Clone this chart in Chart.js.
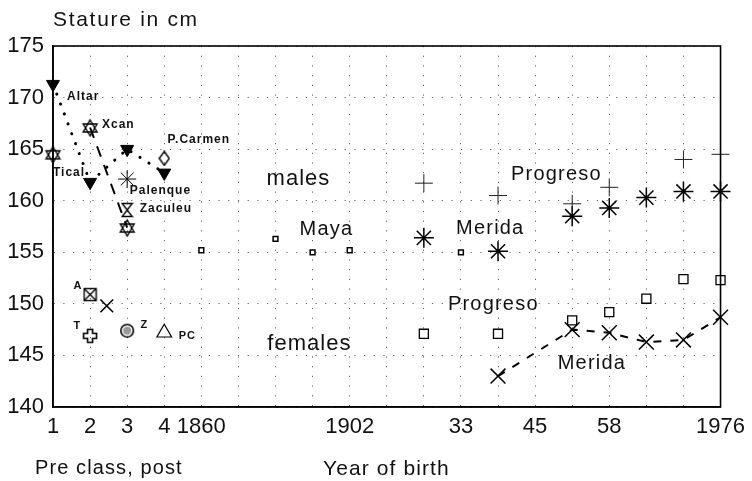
<!DOCTYPE html>
<html>
<head>
<meta charset="utf-8">
<script src="https://cdn.jsdelivr.net/npm/chart.js@4.4.1/dist/chart.umd.min.js"></script>
<style>
  html, body { margin: 0; padding: 0; background: #fff; }
</style>
</head>
<body>
<canvas id="chart" width="752" height="481"></canvas>
<script>
/* Stature of Maya populations: pre-Columbian sites (periods 1-4) and
   birth cohorts 1860-1976. The x axis is a slot index 0..18. */
(function () {
    "use strict";

    // x axis: slot index -> printed label
    var tickSlots = [0, 1, 2, 3, 4, 8, 11, 13, 15, 18];
    var tickNames = ["1", "2", "3", "4", "1860", "1902", "33", "45", "58", "1976"];

    // males, pre-Columbian sites
    var triSlots = [0, 1, 2, 3];                 // Altar ... P.Carmen series
    var triStature = [171.3, 161.8, 165.0, 162.7];
    var starSlots = [0, 1, 2];                   // Tical, Xcan, Zaculeu
    var starStature = [164.5, 167.1, 157.4];
    var palenque = { slot: 2, stature: 162.1 };
    var zaculeu = { slot: 2, stature: 159.1 };
    var pCarmen = { slot: 3, stature: 164.1 };

    // females, pre-Columbian sites
    var altarF = { slot: 1, stature: 150.9 };
    var otherF = { slot: 1.45, stature: 149.8 };
    var ticalF = { slot: 1, stature: 146.9 };
    var zaculeuF = { slot: 2, stature: 147.4 };
    var pCarmenF = { slot: 3, stature: 147.2 };

    // males, birth cohorts
    var mayaSlots = [4, 6, 7, 8, 11];
    var mayaStature = [155.2, 156.3, 155.0, 155.2, 155.0];
    var progresoMSlots = [10, 12, 14, 15, 17, 18];
    var progresoM = [161.7, 160.5, 159.7, 161.3, 164.0, 164.5];
    var meridaMSlots = [10, 12, 14, 15, 16, 17, 18];
    var meridaM = [156.4, 155.1, 158.5, 159.3, 160.3, 160.9, 160.9];

    // females, birth cohorts
    var progresoFSlots = [10, 12, 14, 15, 16, 17, 18];
    var progresoF = [147.1, 147.1, 148.4, 149.2, 150.5, 152.4, 152.3];
    var meridaFSlots = [12, 14, 15, 16, 17, 18];
    var meridaF = [143.0, 147.5, 147.2, 146.3, 146.5, 148.7];

    function pts(xs, ys) {
        return xs.map(function (x, i) {
            return { x: x, y: ys[i] };
        });
    }
    function one(p) {
        return [{ x: p.slot, y: p.stature }];
    }

    // small canvases used as point styles
    function icon(w, h, draw) {
        var c = document.createElement("canvas");
        c.width = w;
        c.height = h;
        var g = c.getContext("2d");
        g.strokeStyle = "#000";
        g.fillStyle = "#000";
        g.lineWidth = 1.4;
        draw(g, w, h);
        return c;
    }
    var hexagram = icon(19, 19, function (g) {
        [-Math.PI / 2, Math.PI / 2].forEach(function (a0) {
            g.beginPath();
            for (var k = 0; k < 3; k++) {
                var a = a0 + (k * 2 * Math.PI) / 3;
                g.lineTo(9.5 + 8 * Math.cos(a), 10 + 8 * Math.sin(a));
            }
            g.closePath();
            g.stroke();
        });
    });
    var hourglass = icon(13, 16, function (g) {
        g.beginPath();
        g.moveTo(1.5, 1.5);
        g.lineTo(11.5, 1.5);
        g.lineTo(1.5, 14.5);
        g.lineTo(11.5, 14.5);
        g.closePath();
        g.stroke();
    });
    var boxedHourglass = icon(15, 15, function (g) {
        g.strokeRect(1.5, 1.5, 12, 12);
        g.beginPath();
        g.moveTo(1.5, 1.5);
        g.lineTo(13.5, 13.5);
        g.moveTo(13.5, 1.5);
        g.lineTo(1.5, 13.5);
        g.stroke();
    });
    var greekCross = icon(16, 16, function (g) {
        var a = 5.5, b = 10.5, e = 1.5, f = 14.5;
        g.beginPath();
        g.moveTo(a, e); g.lineTo(b, e); g.lineTo(b, a); g.lineTo(f, a);
        g.lineTo(f, b); g.lineTo(b, b); g.lineTo(b, f); g.lineTo(a, f);
        g.lineTo(a, b); g.lineTo(e, b); g.lineTo(e, a); g.lineTo(a, a);
        g.closePath();
        g.lineWidth = 1.6;
        g.stroke();
    });
    var dottedCircle = icon(16, 16, function (g) {
        g.fillStyle = "#999";
        g.beginPath();
        g.arc(8, 8, 4, 0, Math.PI * 2);
        g.fill();
        g.lineWidth = 1.6;
        g.beginPath();
        g.arc(8, 8, 6.3, 0, Math.PI * 2);
        g.stroke();
    });
    var diamond = icon(12, 16, function (g) {
        g.beginPath();
        g.moveTo(6, 1);
        g.lineTo(11, 8);
        g.lineTo(6, 15);
        g.lineTo(1, 8);
        g.closePath();
        g.stroke();
    });

    // text placed in the plot: [text, slot, stature, font, letter spacing]
    var small = "bold 12px 'Liberation Sans', Arial, sans-serif";
    var tiny = "bold 11px 'Liberation Sans', Arial, sans-serif";
    var mid = "20px 'Liberation Sans', Arial, sans-serif";
    var big = "22px 'Liberation Sans', Arial, sans-serif";
    var notes = [
        ["Altar", 0.38, 170.1, small, "1px"],
        ["Xcan", 1.32, 167.4, small, "1px"],
        ["P.Carmen", 3.09, 165.9, small, "1px"],
        ["Tical", 0.0, 162.7, small, "1px"],
        ["Palenque", 2.07, 161.0, small, "1px"],
        ["Zaculeu", 2.34, 159.2, small, "1px"],
        ["A", 0.55, 151.7, tiny, "0px"],
        ["T", 0.55, 147.9, tiny, "0px"],
        ["Z", 2.36, 148.0, tiny, "0px"],
        ["PC", 3.39, 146.9, tiny, "1px"],
        ["males", 5.76, 162.1, big, "1px"],
        ["Maya", 6.65, 157.2, mid, "1.2px"],
        ["Merida", 10.87, 157.3, mid, "1.2px"],
        ["Progreso", 12.35, 162.5, mid, "1.2px"],
        ["females", 5.78, 146.1, big, "1px"],
        ["Progreso", 10.65, 149.9, mid, "1.2px"],
        ["Merida", 13.61, 144.2, mid, "1.2px"]
    ];

    var frameAndNotes = {
        id: "frameAndNotes",
        afterDraw: function (chart) {
            var ctx = chart.ctx;
            var a = chart.chartArea;
            var sx = chart.scales.x;
            var sy = chart.scales.y;
            ctx.save();
            ctx.strokeStyle = "#000";
            ctx.lineWidth = 1.6;
            ctx.strokeRect(a.left, a.top, a.right - a.left, a.bottom - a.top);

            ctx.fillStyle = "#111";
            ctx.textAlign = "left";
            ctx.textBaseline = "middle";
            notes.forEach(function (n) {
                ctx.font = n[3];
                ctx.letterSpacing = n[4];
                ctx.fillText(n[0], sx.getPixelForValue(n[1]), sy.getPixelForValue(n[2]));
            });

            ctx.textBaseline = "alphabetic";
            ctx.font = "21px 'Liberation Sans', Arial, sans-serif";
            ctx.letterSpacing = "1.7px";
            ctx.fillText("Stature in cm", 53, 26);
            ctx.font = "20px 'Liberation Sans', Arial, sans-serif";
            ctx.letterSpacing = "1.1px";
            ctx.fillText("Pre class, post", 35, 474);
            ctx.font = "21px 'Liberation Sans', Arial, sans-serif";
            ctx.fillText("Year of birth", 323, 475);
            ctx.restore();
        }
    };

    var dots = [0.1, 10.5];

    new Chart(document.getElementById("chart"), {
        type: "scatter",
        data: {
            datasets: [
                {
                    data: pts(triSlots, triStature),
                    showLine: true,
                    borderColor: "#000",
                    borderWidth: 3,
                    borderDash: dots,
                    borderCapStyle: "round",
                    pointStyle: "triangle",
                    pointRotation: 180,
                    pointRadius: 7.5,
                    pointBackgroundColor: "#000",
                    pointBorderColor: "#000",
                    pointBorderWidth: 1
                },
                {
                    data: pts(starSlots.slice(1), starStature.slice(1)),
                    showLine: true,
                    borderColor: "#000",
                    borderWidth: 2,
                    borderDash: [11, 9],
                    pointRadius: 0
                },
                {
                    data: pts(starSlots, starStature),
                    pointStyle: hexagram,
                    pointRadius: 9
                },
                {
                    data: one(palenque),
                    pointStyle: "star",
                    pointRadius: 9,
                    pointBorderColor: "#000",
                    pointBorderWidth: 1
                },
                { data: one(zaculeu), pointStyle: hourglass, pointRadius: 8 },
                { data: one(pCarmen), pointStyle: diamond, pointRadius: 8 },
                { data: one(altarF), pointStyle: boxedHourglass, pointRadius: 8 },
                {
                    data: one(otherF),
                    pointStyle: "crossRot",
                    pointRadius: 9,
                    pointBorderColor: "#000",
                    pointBorderWidth: 1.6
                },
                { data: one(ticalF), pointStyle: greekCross, pointRadius: 8 },
                { data: one(zaculeuF), pointStyle: dottedCircle, pointRadius: 8 },
                {
                    data: one(pCarmenF),
                    pointStyle: "triangle",
                    pointRadius: 8.5,
                    pointBackgroundColor: "#fff",
                    pointBorderColor: "#000",
                    pointBorderWidth: 1.2
                },
                {
                    data: pts(mayaSlots, mayaStature),
                    pointStyle: "rect",
                    pointRadius: 3.4,
                    pointBackgroundColor: "#fff",
                    pointBorderColor: "#000",
                    pointBorderWidth: 1.5
                },
                {
                    data: pts(progresoMSlots, progresoM),
                    pointStyle: "cross",
                    pointRadius: 9,
                    pointBorderColor: "#222",
                    pointBorderWidth: 1
                },
                {
                    data: pts(meridaMSlots, meridaM),
                    pointStyle: "star",
                    pointRadius: 10,
                    pointBorderColor: "#000",
                    pointBorderWidth: 1.5
                },
                {
                    data: pts(progresoFSlots, progresoF),
                    pointStyle: "rect",
                    pointRadius: 6.4,
                    pointBackgroundColor: "#fff",
                    pointBorderColor: "#000",
                    pointBorderWidth: 1.3
                },
                {
                    data: pts(meridaFSlots, meridaF),
                    showLine: true,
                    borderColor: "#000",
                    borderWidth: 2,
                    borderDash: [8, 9],
                    pointStyle: "crossRot",
                    pointRadius: 10.5,
                    pointBorderColor: "#000",
                    pointBorderWidth: 1.5
                }
            ]
        },
        options: {
            responsive: false,
            animation: false,
            events: [],
            datasets: { scatter: { clip: false } },
            layout: { padding: { top: 46, right: 30, left: 0, bottom: 0 } },
            plugins: { legend: { display: false }, tooltip: { enabled: false } },
            scales: {
                x: {
                    type: "linear",
                    min: 0,
                    max: 18,
                    afterFit: function (s) {
                        s.height = 74;
                    },
                    afterBuildTicks: function (s) {
                        var t = [];
                        for (var i = 0; i <= 18; i++) {
                            t.push({ value: i });
                        }
                        s.ticks = t;
                    },
                    ticks: {
                        autoSkip: false,
                        maxRotation: 0,
                        padding: 7,
                        color: "#111",
                        font: { family: "'Liberation Sans', Arial, sans-serif", size: 22 },
                        callback: function (v) {
                            var i = tickSlots.indexOf(v);
                            return i >= 0 ? tickNames[i] : "";
                        }
                    },
                    grid: { color: "#666", lineWidth: 1, drawTicks: false, borderDash: [1.2, 8.5] },
                    border: { display: true, color: "#000", width: 1.6, dash: [1.2, 8.5] }
                },
                y: {
                    min: 140,
                    max: 175,
                    afterFit: function (s) {
                        s.width = 53;
                    },
                    ticks: {
                        stepSize: 5,
                        padding: 9,
                        color: "#111",
                        font: { family: "'Liberation Sans', Arial, sans-serif", size: 22 }
                    },
                    grid: { color: "#666", lineWidth: 1, drawTicks: false, borderDash: [1.2, 8.5] },
                    border: { display: true, color: "#000", width: 1.6, dash: [1.2, 8.5] }
                }
            }
        },
        plugins: [frameAndNotes]
    });
})();
</script>
</body>
</html>
